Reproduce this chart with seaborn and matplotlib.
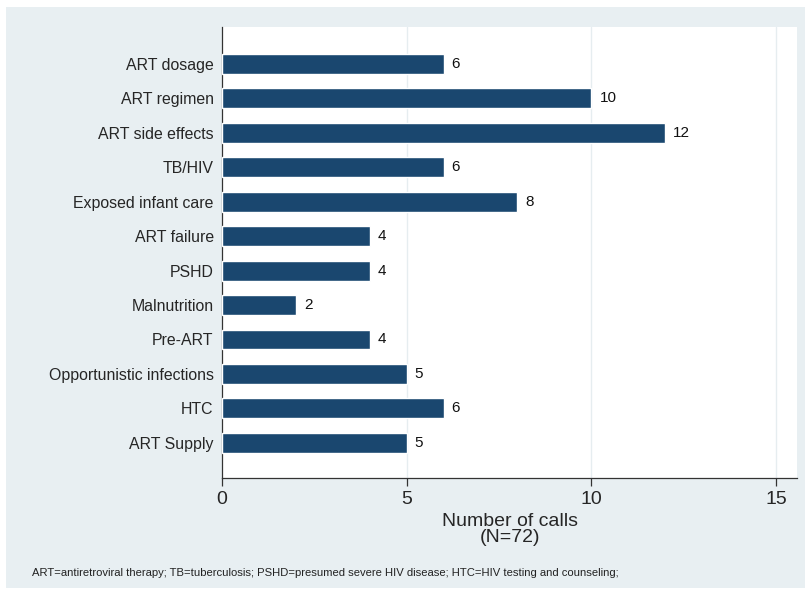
import matplotlib
matplotlib.use("Agg")
import matplotlib.pyplot as plt
import seaborn as sns
import pandas as pd
from matplotlib.patches import Rectangle

# data
topics = ["ART dosage", "ART regimen", "ART side effects", "TB/HIV",
          "Exposed infant care", "ART failure", "PSHD", "Malnutrition",
          "Pre-ART", "Opportunistic infections", "HTC", "ART Supply"]
calls = [6, 10, 12, 6, 8, 4, 4, 2, 4, 5, 6, 5]
x_ticks = [0, 5, 10, 15]
footnote = ("ART=antiretroviral therapy; TB=tuberculosis; PSHD=presumed severe HIV disease; "
            "HTC=HIV testing and counseling;")

df = pd.DataFrame({"topic": topics, "calls": calls})

sns.set_theme(style="white")
plt.rcParams["font.family"] = ["Liberation Sans", "DejaVu Sans"]

bg = "#e8eff2"
bar_col = "#1a476f"

fig = plt.figure(figsize=(8.05, 5.93), dpi=100, facecolor="white")
# light stata-like outer panel (image has a thin white border)
fig.patches.append(Rectangle((6 / 805, 5 / 593), 799 / 805, 581 / 593,
                             transform=fig.transFigure, facecolor=bg,
                             edgecolor="none", zorder=-10))

ax = fig.add_axes([222 / 805, 1 - 478 / 593, (797 - 222) / 805, (478 - 27) / 593])
ax.set_facecolor("white")

sns.barplot(data=df, x="calls", y="topic", orient="h", color=bar_col,
            width=0.58, saturation=1, ax=ax, zorder=3)

for i, v in enumerate(calls):
    ax.text(v + 0.22, i, str(v), va="center", ha="left", fontsize=11,
            color="#111111", zorder=4)

ax.set_xlim(0, 15.57)
ax.set_ylim(len(topics) - 1 + 1.02, -1.07)
ax.set_xticks(x_ticks)
ax.set_xticklabels([str(t) for t in x_ticks], fontsize=14)
for t in x_ticks[1:]:
    ax.axvline(t, color="#e6edf0", lw=1.0, zorder=1)

ax.tick_params(axis="x", length=6, width=0.9, color="#333333", pad=3, bottom=True)
ax.tick_params(axis="y", length=0, pad=6, labelsize=11.4)

for s in ["top", "right"]:
    ax.spines[s].set_visible(False)
for s in ["left", "bottom"]:
    ax.spines[s].set_color("#333333")
    ax.spines[s].set_linewidth(0.9)

ax.set_ylabel("")
ax.set_xlabel("Number of calls\n(N=72)", fontsize=14, linespacing=0.95, labelpad=4)

fig.text(32 / 805, 1 - 573 / 593, footnote, fontsize=8.15, va="center", ha="left",
         color="#222222")

fig.savefig("out.png", dpi=100, facecolor=fig.get_facecolor())
